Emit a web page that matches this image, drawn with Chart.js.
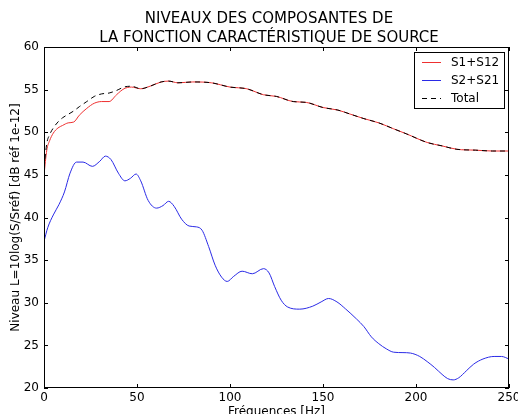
<!DOCTYPE html>
<html>
<head>
<meta charset="utf-8">
<style>
    html, body { margin: 0; padding: 0; background: #fff; }
    #wrap { width: 518px; height: 414px; }
</style>
</head>
<body>
<div id="wrap"><canvas id="levelsChart" width="518" height="414"></canvas></div>
<script src="https://cdn.jsdelivr.net/npm/chart.js"></script>
<script>
    // frequencies (Hz) and levels (dB)
    const freqA = [0, 1.5, 3, 5, 7.5, 10, 13, 16, 19, 23, 27, 31, 35, 39, 43, 47, 52, 57, 63, 67,
        72, 80, 90, 100, 109, 118, 125, 134, 141, 150, 158, 165, 172, 180, 188, 195, 206, 214, 222, 232, 241, 250];
    const s1s12 = [45.0, 47.9, 49.0, 49.9, 50.5, 50.8, 51.1, 51.2, 52.0, 52.8, 53.4, 53.6, 53.6, 54.4, 55.1, 55.3, 55.1, 55.4, 55.9, 56.0,
        55.8, 55.9, 55.8, 55.3, 55.1, 54.4, 54.2, 53.6, 53.5, 52.9, 52.6, 52.1, 51.6, 51.1, 50.4, 49.8, 48.8, 48.4, 48.0, 47.9, 47.8, 47.8];
    const total = [45.8, 48.7, 49.7, 50.5, 51.2, 51.7, 52.1, 52.5, 53.0, 53.6, 54.2, 54.5, 54.6, 54.9, 55.3, 55.4, 55.1, 55.4, 55.9, 56.0,
        55.8, 55.9, 55.8, 55.3, 55.1, 54.4, 54.2, 53.6, 53.5, 52.9, 52.6, 52.1, 51.6, 51.1, 50.4, 49.8, 48.8, 48.4, 48.0, 47.9, 47.8, 47.8];

    const freqB = [0, 2, 5, 8, 11, 14, 17.5, 21, 26, 30, 33, 36, 40, 43.5, 46.5, 49.5, 52, 56, 60.5, 64,
        67, 70, 74, 78, 82, 85, 88.5, 92, 95.5, 98.5, 102, 106.5, 112, 118, 121, 124, 127.5, 131, 137.5, 144.5,
        149, 153, 157.5, 162, 168, 172, 176, 180, 184, 188, 193, 197, 202, 206, 210, 214, 217, 220, 223, 227,
        231, 236, 242, 246, 250];
    const s2s21 = [37.2, 38.8, 40.3, 41.5, 43.0, 45.2, 46.5, 46.5, 46.0, 46.6, 47.2, 46.8, 45.2, 44.3, 44.6, 45.1, 44.3, 42.0, 41.1, 41.4,
        41.9, 41.3, 39.8, 39.0, 38.9, 38.5, 36.6, 34.4, 33.0, 32.5, 33.1, 33.7, 33.4, 34.0, 33.5, 31.9, 30.3, 29.5, 29.25, 29.6,
        30.1, 30.5, 30.1, 29.3, 28.1, 27.2, 26.0, 25.2, 24.6, 24.2, 24.15, 24.1, 23.7, 23.1, 22.4, 21.6, 21.1, 20.95, 21.2, 22.0,
        22.8, 23.4, 23.7, 23.7, 23.4];

    const titleLines = ['NIVEAUX DES COMPOSANTES DE', 'LA FONCTION CARACTÉRISTIQUE DE SOURCE'];
    const xTitle = 'Fréquences [Hz]';
    const yTitle = 'Niveau L=10log(S/Sréf) [dB réf 1e-12]';

    const FONT = 'DejaVu Sans';

    function pairs(xs, ys) {
        return xs.map((x, i) => ({ x: x, y: ys[i] }));
    }

    // two-line title, centred a bit left of the plot centre like the original
    const topTitle = {
        id: 'topTitle',
        afterDraw(chart) {
            const ctx = chart.ctx;
            ctx.save();
            ctx.fillStyle = '#000';
            ctx.font = '15px "' + FONT + '"';
            ctx.textAlign = 'center';
            ctx.textBaseline = 'middle';
            titleLines.forEach((line, i) => ctx.fillText(line, 269, 19 + i * 19));
            ctx.restore();
        }
    };

    // frame around the plot + inward ticks on all four sides (matplotlib look)
    const framePlugin = {
        id: 'frame',
        afterDatasetsDraw(chart) {
            const { ctx, chartArea: a, scales } = chart;
            ctx.save();
            ctx.strokeStyle = '#000';
            ctx.lineWidth = 1;
            ctx.strokeRect(Math.round(a.left) + 0.5, Math.round(a.top) + 0.5,
                Math.round(a.right - a.left) - 1, Math.round(a.bottom - a.top) - 1);
            ctx.beginPath();
            scales.x.ticks.forEach(t => {
                const px = Math.round(scales.x.getPixelForValue(t.value)) + 0.5;
                ctx.moveTo(px, a.bottom); ctx.lineTo(px, a.bottom - 4);
                ctx.moveTo(px, a.top); ctx.lineTo(px, a.top + 4);
            });
            scales.y.ticks.forEach(t => {
                const py = Math.round(scales.y.getPixelForValue(t.value)) + 0.5;
                ctx.moveTo(a.left, py); ctx.lineTo(a.left + 4, py);
                ctx.moveTo(a.right, py); ctx.lineTo(a.right - 4, py);
            });
            ctx.stroke();
            ctx.restore();
        }
    };

    // legend box in the upper right corner of the plot
    const boxLegend = {
        id: 'boxLegend',
        afterDraw(chart) {
            const { ctx, chartArea: a } = chart;
            const w = 90, h = 56;
            const x0 = a.right - 5 - w, y0 = a.top + 5;
            ctx.save();
            ctx.fillStyle = '#fff';
            ctx.fillRect(x0, y0, w, h);
            ctx.strokeStyle = '#000';
            ctx.lineWidth = 1;
            ctx.strokeRect(Math.round(x0) + 0.5, Math.round(y0) + 0.5, w, h);
            ctx.font = '12px "' + FONT + '"';
            ctx.textBaseline = 'middle';
            chart.data.datasets.forEach((ds, i) => {
                const yy = Math.round(y0 + 10 + i * 18) + 0.5;
                ctx.strokeStyle = ds.borderColor;
                ctx.setLineDash(ds.borderDash || []);
                ctx.beginPath();
                ctx.moveTo(x0 + 8, yy);
                ctx.lineTo(x0 + 27, yy);
                ctx.stroke();
                ctx.setLineDash([]);
                ctx.fillStyle = '#000';
                ctx.fillText(ds.label, x0 + 37, yy);
            });
            ctx.restore();
        }
    };

    new Chart(document.getElementById('levelsChart').getContext('2d'), {
        type: 'line',
        data: {
            datasets: [
                {
                    label: 'S1+S12',
                    data: pairs(freqA, s1s12),
                    borderColor: '#ee3030',
                    borderWidth: 1,
                    order: 2
                },
                {
                    label: 'S2+S21',
                    data: pairs(freqB, s2s21),
                    borderColor: '#2a2ae6',
                    borderWidth: 1,
                    order: 1
                },
                {
                    label: 'Total',
                    data: pairs(freqA, total),
                    borderColor: '#000000',
                    borderWidth: 1,
                    borderDash: [5, 4],
                    order: 0
                }
            ]
        },
        options: {
            responsive: false,
            animation: false,
            elements: {
                point: { radius: 0 },
                line: { cubicInterpolationMode: 'monotone', fill: false }
            },
            layout: { padding: { left: 0, right: 9, top: 47, bottom: 0 } },
            plugins: {
                legend: { display: false },
                tooltip: { enabled: false },
                title: { display: false }
            },
            scales: {
                x: {
                    type: 'linear',
                    min: 0,
                    max: 250,
                    grid: { display: false, drawTicks: false },
                    border: { display: false },
                    ticks: {
                        stepSize: 50,
                        color: '#000',
                        padding: 3,
                        maxRotation: 0,
                        font: { family: FONT, size: 12 }
                    },
                    title: {
                        display: true,
                        text: xTitle,
                        color: '#000',
                        font: { family: FONT, size: 12 },
                        padding: { top: 0, bottom: -5.5 }
                    },
                    afterFit(scale) {
                        scale.height = 26;
                        scale.paddingLeft = 0;
                        scale.paddingRight = 0;
                    }
                },
                y: {
                    min: 20,
                    max: 60,
                    grid: { display: false, drawTicks: false },
                    border: { display: false },
                    ticks: {
                        stepSize: 5,
                        color: '#000',
                        padding: 5,
                        font: { family: FONT, size: 12 }
                    },
                    title: {
                        display: true,
                        text: yTitle,
                        color: '#000',
                        font: { family: FONT, size: 12 },
                        padding: { top: 9, bottom: 0 }
                    },
                    afterFit(scale) {
                        scale.width = 44;
                        scale.paddingTop = 0;
                        scale.paddingBottom = 0;
                    }
                }
            }
        },
        plugins: [topTitle, framePlugin, boxLegend]
    });
</script>
</body>
</html>
